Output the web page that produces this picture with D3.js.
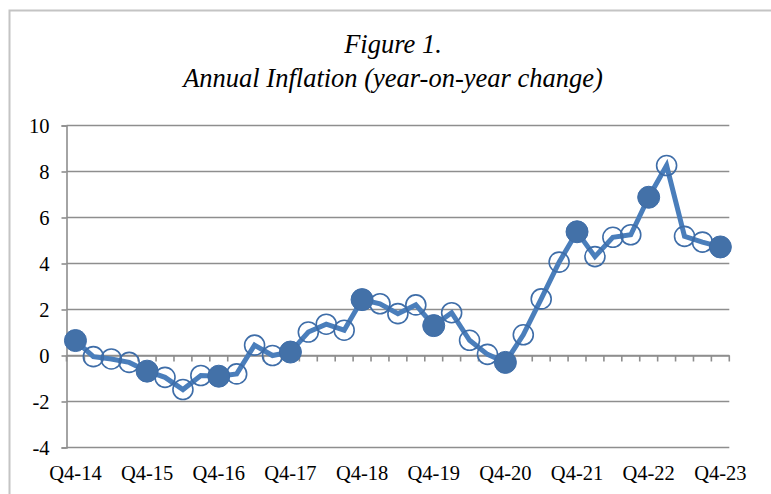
<!DOCTYPE html>
<html>
<head>
<meta charset="utf-8">
<script src="https://cdn.jsdelivr.net/npm/d3@7"></script>
<style>
html, body { margin: 0; padding: 0; background: #fff; }
svg { display: block; }
</style>
</head>
<body>
<svg id="chart" width="771" height="494"></svg>
<script>
// ---- data ----
const categories = [
  "Q4-14","Q1-15","Q2-15","Q3-15",
  "Q4-15","Q1-16","Q2-16","Q3-16",
  "Q4-16","Q1-17","Q2-17","Q3-17",
  "Q4-17","Q1-18","Q2-18","Q3-18",
  "Q4-18","Q1-19","Q2-19","Q3-19",
  "Q4-19","Q1-20","Q2-20","Q3-20",
  "Q4-20","Q1-21","Q2-21","Q3-21",
  "Q4-21","Q1-22","Q2-22","Q3-22",
  "Q4-22","Q1-23","Q2-23","Q3-23",
  "Q4-23"
];
const inflation = [
  0.65, -0.05, -0.15, -0.3,
  -0.68, -0.95, -1.48, -0.87,
  -0.9, -0.8, 0.45, 0.0,
  0.15, 1.02, 1.36, 1.1,
  2.43, 2.25, 1.82, 2.2,
  1.3, 1.86, 0.66, 0.05,
  -0.3, 0.9, 2.46, 4.06,
  5.38, 4.3, 5.14, 5.25,
  6.88, 8.26, 5.18, 4.93,
  4.72
];
const q4Categories = ["Q4-14","Q4-15","Q4-16","Q4-17","Q4-18","Q4-19","Q4-20","Q4-21","Q4-22","Q4-23"];
const q4Values = [0.65, -0.68, -0.9, 0.15, 2.43, 1.3, -0.3, 5.38, 6.88, 4.72];
const yTicks = [-4, -2, 0, 2, 4, 6, 8, 10];
const titleLines = ["Figure 1.", "Annual Inflation (year-on-year change)"];

// ---- layout ----
const svg = d3.select("#chart");
const font = "'Liberation Serif','Times New Roman',serif";
const plotLeft = 66.5, plotRight = 729.3, plotTop = 125.5, plotBottom = 447.5;

const x = d3.scaleBand().domain(categories).range([plotLeft, plotRight]).padding(0);
const y = d3.scaleLinear().domain([-4, 10]).range([plotBottom, plotTop]);
const cx = c => x(c) + x.bandwidth() / 2;

// outer border
svg.append("rect")
  .attr("x", 9.5).attr("y", 10.5).attr("width", 800).attr("height", 520)
  .attr("fill", "none").attr("stroke", "#c4c4c4").attr("stroke-width", 2);

// title
svg.selectAll("text.title").data(titleLines).join("text")
  .attr("class", "title")
  .attr("x", 393).attr("y", (d, i) => 53 + i * 34)
  .attr("text-anchor", "middle")
  .attr("font-family", font).attr("font-style", "italic")
  .attr("font-size", 26.5).attr("fill", "#000")
  .text(d => d);

const gridColor = "#8e8e8e";

// gridlines
svg.append("g").selectAll("line").data(yTicks).join("line")
  .attr("x1", plotLeft).attr("x2", plotRight)
  .attr("y1", d => y(d)).attr("y2", d => y(d))
  .attr("stroke", gridColor).attr("stroke-width", 1.6);

// y axis
const yAxis = svg.append("g")
  .attr("transform", `translate(${plotLeft},0)`)
  .call(d3.axisLeft(y).tickValues(yTicks).tickSize(5).tickPadding(12).tickFormat(d => String(d)));
yAxis.select(".domain").attr("stroke", gridColor).attr("stroke-width", 1.6);
yAxis.selectAll(".tick line").attr("stroke", gridColor).attr("stroke-width", 1.6);
yAxis.selectAll(".tick text")
  .attr("font-family", font).attr("font-size", 20.5).attr("fill", "#000");

// x axis at zero with category-boundary ticks
const xAxis = svg.append("g")
  .attr("transform", `translate(0,${y(0)})`)
  .call(d3.axisBottom(x).tickSize(0).tickFormat(""));
xAxis.select(".domain").attr("stroke", gridColor).attr("stroke-width", 1.6);
const bounds = categories.map(c => x(c)).concat([x(categories[categories.length - 1]) + x.bandwidth()]);
xAxis.append("g").selectAll("line").data(bounds).join("line")
  .attr("x1", d => d).attr("x2", d => d)
  .attr("y1", 0).attr("y2", 6)
  .attr("stroke", gridColor).attr("stroke-width", 1.6);

// x labels
svg.append("g").selectAll("text").data(q4Categories).join("text")
  .attr("x", d => cx(d)).attr("y", 480)
  .attr("text-anchor", "middle")
  .attr("font-family", font).attr("font-size", 20.5).attr("fill", "#000")
  .text(d => d);

// line
const pts = categories.map((c, i) => ({ c, v: inflation[i] }));
svg.append("path")
  .datum(pts)
  .attr("fill", "none")
  .attr("stroke", "#4A7EBB")
  .attr("stroke-width", 5)
  .attr("stroke-linejoin", "miter")
  .attr("d", d3.line().x(d => cx(d.c)).y(d => y(d.v)));

// open markers (non-Q4 quarters)
svg.append("g").selectAll("circle")
  .data(pts.filter(d => !q4Categories.includes(d.c)))
  .join("circle")
  .attr("cx", d => cx(d.c)).attr("cy", d => y(d.v)).attr("r", 10)
  .attr("fill", "none").attr("stroke", "#3E6DA8").attr("stroke-width", 1.6);

// filled markers (Q4)
svg.append("g").selectAll("circle")
  .data(q4Categories.map((c, i) => ({ c, v: q4Values[i] })))
  .join("circle")
  .attr("cx", d => cx(d.c)).attr("cy", d => y(d.v)).attr("r", 11)
  .attr("fill", "#4371A8").attr("stroke", "#3E6DA8").attr("stroke-width", 1);
</script>
</body>
</html>
